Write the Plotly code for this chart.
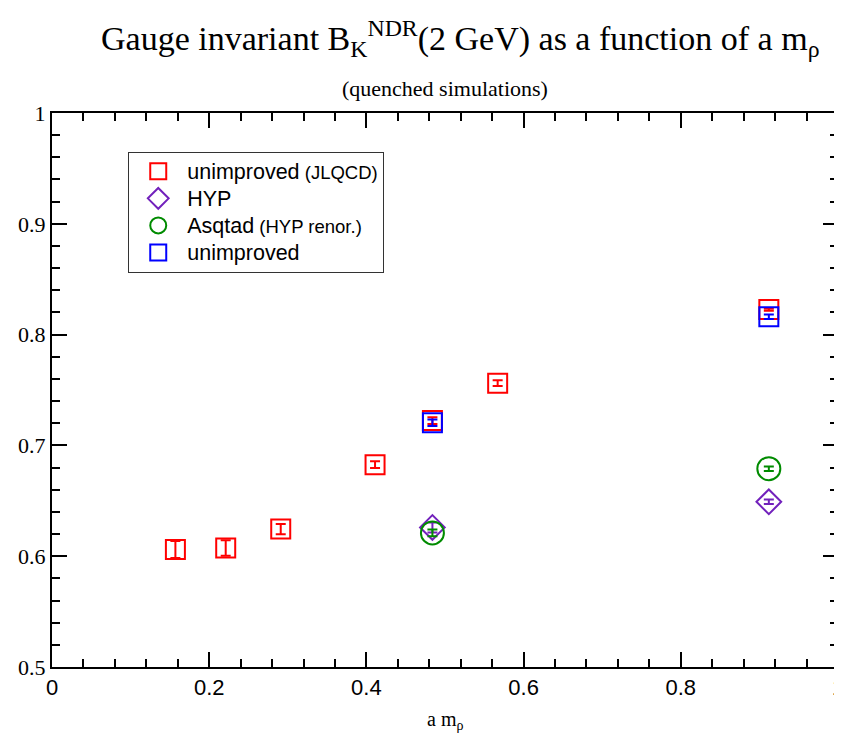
import plotly.graph_objects as go

# Data
x_jlqcd = [0.157, 0.221, 0.291, 0.411, 0.484, 0.567, 0.912]
y_jlqcd = [0.606, 0.6075, 0.6245, 0.6826, 0.7224, 0.7562, 0.8226]
e_jlqcd = [0.0077, 0.007, 0.0046, 0.003, 0.003, 0.0027, 0.001]

x_hyp = [0.484, 0.912]
y_hyp = [0.626, 0.6491]
e_hyp = [0.0045, 0.002]

x_asq = [0.484, 0.912]
y_asq = [0.621, 0.679]
e_asq = [0.003, 0.002]

x_unimp = [0.484, 0.912]
y_unimp = [0.7204, 0.8161]
e_unimp = [0.003, 0.002]

RED = "#ff0000"
PURPLE = "#7221bc"
GREEN = "#008b00"
BLUE = "#0000ff"

fig = go.Figure()


def add(x, y, e, name, color, symbol, size):
    fig.add_trace(go.Scatter(
        x=x, y=y, mode="markers", name=name,
        marker=dict(symbol=symbol, size=size, color=color,
                    line=dict(color=color, width=2)),
        error_y=dict(type="data", array=e, visible=True, color=color,
                     thickness=2, width=5),
    ))


def lab(main, small=""):
    s = "<span style='font-size:21.5px'>" + main + "</span>"
    if small:
        s += "<span style='font-size:18.5px'> " + small + "</span>"
    return s


add(x_jlqcd, y_jlqcd, e_jlqcd, lab("unimproved", "(JLQCD)"), RED, "square-open", 19)
add(x_hyp, y_hyp, e_hyp, lab("HYP"), PURPLE, "diamond-open", 19)
add(x_asq, y_asq, e_asq, lab("Asqtad", "(HYP renor.)"), GREEN, "circle-open", 23)
add(x_unimp, y_unimp, e_unimp, lab("unimproved"), BLUE, "square-open", 19)

serif = "Liberation Serif"
sans = "Liberation Sans"

fig.update_layout(
    width=834, height=731,
    margin=dict(l=44, r=4, t=105, b=72),
    plot_bgcolor="white", paper_bgcolor="white",
    showlegend=True,
    legend=dict(
        x=0.097, y=0.93, xanchor="left", yanchor="top",
        bgcolor="white", bordercolor="#333333", borderwidth=1,
        font=dict(family=sans, size=18.5, color="black"),
        itemwidth=48, tracegroupgap=0,
    ),
    xaxis=dict(
        range=[0, 1], dtick=0.2, tick0=0, automargin=False,
        ticklabeloverflow="allow",
        showgrid=False, zeroline=False,
        showline=True, linecolor="black", linewidth=2, mirror="allticks",
        ticks="inside", ticklen=15, tickwidth=2, tickcolor="black",
        tickfont=dict(family=sans, size=22, color="black"),
        minor=dict(dtick=0.04, ticks="inside", ticklen=8, tickwidth=1.5,
                   tickcolor="black", showgrid=False),
    ),
    yaxis=dict(
        range=[0.5, 1], dtick=0.1, tick0=0.5, automargin=False,
        ticklabeloverflow="allow",
        showgrid=False, zeroline=False,
        showline=True, linecolor="black", linewidth=2, mirror="allticks",
        ticks="inside", ticklen=15, tickwidth=2, tickcolor="black",
        tickfont=dict(family=serif, size=22, color="black"),
        minor=dict(dtick=0.02, ticks="inside", ticklen=8, tickwidth=1.5,
                   tickcolor="black", showgrid=False),
    ),
    annotations=[
        dict(text="Gauge invariant B<sub>K</sub><sup>NDR</sup>(2 GeV) as a function of a m<sub>ρ</sub>",
             xref="paper", yref="paper", x=0.52, y=1.135,
             xanchor="center", yanchor="middle", showarrow=False,
             font=dict(family=serif, size=34, color="black")),
        dict(text="(quenched simulations)",
             xref="paper", yref="paper", x=0.5, y=1.045,
             xanchor="center", yanchor="middle", showarrow=False,
             font=dict(family=serif, size=22, color="black")),
        dict(text="a m<sub>ρ</sub>",
             xref="paper", yref="paper", x=0.5, y=-0.097,
             xanchor="center", yanchor="middle", showarrow=False,
             font=dict(family=serif, size=20, color="black")),
    ],
)

fig.write_html("out.html")
